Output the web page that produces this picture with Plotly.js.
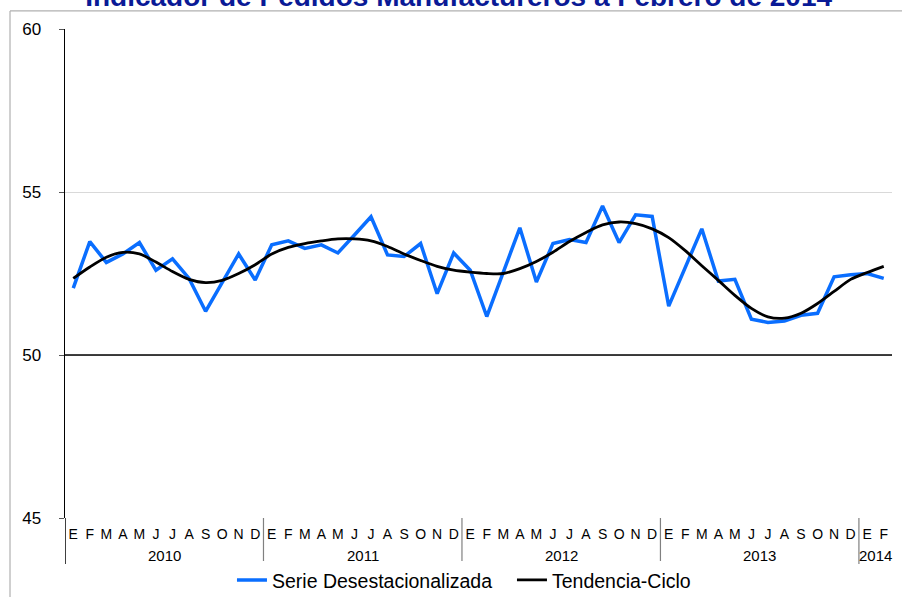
<!DOCTYPE html>
<html>
<head>
<meta charset="utf-8">
<script src="https://cdn.plot.ly/plotly-3.0.1.min.js"></script>
<style>html,body{margin:0;padding:0;background:#fff;}#chart{width:902px;height:597px;}</style>
</head>
<body>
<div id="chart"></div>
<script>
const monthLabels = ["E","F","M","A","M","J","J","A","S","O","N","D",
  "E","F","M","A","M","J","J","A","S","O","N","D",
  "E","F","M","A","M","J","J","A","S","O","N","D",
  "E","F","M","A","M","J","J","A","S","O","N","D",
  "E","F"];
const years = ["2010","2011","2012","2013","2014"];
const yearMonths = [12,12,12,12,2];
const serieDesest = [52.05,53.48,52.84,53.10,53.45,52.60,52.95,52.35,51.34,52.20,53.10,52.30,
  53.38,53.50,53.27,53.38,53.13,53.68,54.24,53.07,53.02,53.42,51.88,53.13,
  52.60,51.18,52.56,53.90,52.24,53.42,53.54,53.45,54.57,53.45,54.30,54.25,
  51.50,52.70,53.87,52.27,52.32,51.10,51.00,51.04,51.22,51.28,52.40,52.46,
  52.50,52.35];
const tendenciaCiclo = [52.35,52.70,53.00,53.15,53.10,52.85,52.56,52.32,52.22,52.29,52.50,52.77,
  53.10,53.30,53.42,53.50,53.56,53.56,53.50,53.33,53.10,52.90,52.72,52.60,
  52.54,52.50,52.50,52.65,52.87,53.15,53.48,53.76,53.99,54.08,54.03,53.87,
  53.60,53.20,52.74,52.29,51.83,51.43,51.17,51.13,51.28,51.58,51.95,52.32,
  52.53,52.72];
const titleText = "Indicador de Pedidos Manufactureros a Febrero de 2014";

const xIdx = monthLabels.map((_, i) => i);
const FONT = "Liberation Sans, Arial, sans-serif";

const traces = [
  {x: xIdx, y: serieDesest, type: "scatter", mode: "lines", name: "Serie Desestacionalizada",
   line: {color: "#0A6EFF", width: 3.5}},
  {x: xIdx, y: tendenciaCiclo, type: "scatter", mode: "lines", name: "Tendencia-Ciclo",
   line: {color: "#000000", width: 2.8, shape: "spline", smoothing: 0.8}}
];

const shapes = [];
const annotations = [];
let start = 0;
const divBottom = -0.094;
years.forEach((yr, k) => {
  const n = yearMonths[k];
  shapes.push({type: "line", xref: "x", yref: "paper", x0: start - 0.5, x1: start - 0.5,
    y0: 0, y1: divBottom, line: {color: k === 0 ? "#000" : "#808080", width: k === 0 ? 1.5 : 1.2}});
  annotations.push({xref: "x", yref: "paper", x: start + (n - 1) / 2, y: -0.076,
    text: yr, showarrow: false, xanchor: "center", yanchor: "middle",
    font: {family: FONT, size: 15, color: "#000"}});
  start += n;
});
// line at 50
shapes.push({type: "line", xref: "paper", yref: "y", x0: 0, x1: 1, y0: 50, y1: 50,
  line: {color: "#000", width: 1.5}});
// outer chart border
shapes.push({type: "line", xref: "paper", yref: "paper", x0: -0.0665, x1: 1.02, y0: 1.0369, y1: 1.0369,
  line: {color: "#b0b0b0", width: 1.2}});
shapes.push({type: "line", xref: "paper", yref: "paper", x0: -0.0665, x1: -0.0665, y0: 1.0369, y1: -0.17,
  line: {color: "#b0b0b0", width: 1.2}});

const layout = {
  width: 902, height: 597,
  margin: {l: 65, r: 10, t: 29, b: 79, autoexpand: false},
  paper_bgcolor: "#fff", plot_bgcolor: "#fff",
  title: {text: "<b>" + titleText + "</b>", x: 0.476, xref: "paper", y: 0.990, yref: "container",
    xanchor: "center", yanchor: "bottom", font: {family: FONT, size: 28, color: "#0A1A96"}},
  xaxis: {range: [-0.5, 49.5], tickmode: "array", tickvals: xIdx, ticktext: monthLabels,
    showgrid: false, zeroline: false, showline: false, ticks: "", ticklabelstandoff: 6,
    tickfont: {family: FONT, size: 14, color: "#000"}, automargin: false},
  yaxis: {range: [45, 60], tickvals: [45, 50, 55, 60], showgrid: true, gridcolor: "#d9d9d9", gridwidth: 1,
    zeroline: false, showline: true, linecolor: "#000", linewidth: 1.5,
    ticks: "outside", ticklen: 5, tickcolor: "#555", ticklabelstandoff: 14, automargin: false,
    tickfont: {family: FONT, size: 17, color: "#000"}},
  showlegend: true,
  legend: {orientation: "h", x: 0.2019, xanchor: "left", xref: "paper", y: 0.028, yref: "container", yanchor: "middle",
    font: {family: FONT, size: 19.5, color: "#000"}, itemwidth: 30, tracegroupgap: 0, entrywidth: 235},
  shapes: shapes,
  annotations: annotations
};

Plotly.newPlot("chart", traces, layout, {displayModeBar: false, staticPlot: true});
</script>
</body>
</html>
